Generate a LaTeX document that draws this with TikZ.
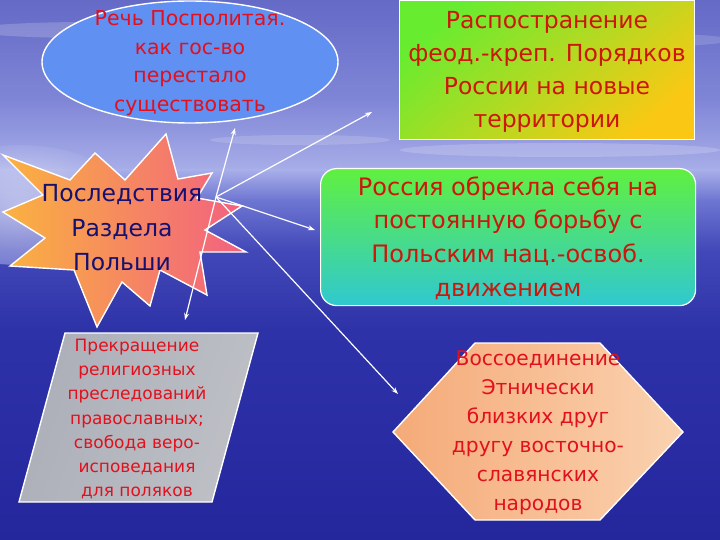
\documentclass[tikz,border=0pt]{standalone}
\usepackage{fontspec}
\setmainfont{DejaVu Sans}
\usetikzlibrary{arrows.meta,shapes.geometric}
\definecolor{bgA}{RGB}{100,106,198}
\definecolor{bgB}{RGB}{128,134,214}
\definecolor{bgC}{RGB}{168,174,232}
\definecolor{bgD}{RGB}{110,118,210}
\definecolor{bgE}{RGB}{66,72,184}
\definecolor{bgF}{RGB}{46,50,168}
\definecolor{bgG}{RGB}{36,38,156}
\definecolor{ellblue}{RGB}{96,144,242}
\definecolor{txtred}{RGB}{226,16,28}
\definecolor{txtdred}{RGB}{205,22,12}
\definecolor{navy}{RGB}{22,16,112}
\definecolor{rgreen}{RGB}{104,236,48}
\definecolor{ryellow}{RGB}{250,200,20}
\definecolor{ggreen}{RGB}{96,240,64}
\definecolor{gteal}{RGB}{48,200,208}
\definecolor{starL}{RGB}{250,178,64}
\definecolor{starR}{RGB}{242,96,128}
\definecolor{silA}{RGB}{172,175,184}
\definecolor{silB}{RGB}{244,245,246}
\definecolor{silC}{RGB}{190,192,198}
\definecolor{hexA}{RGB}{245,170,120}
\definecolor{hexB}{RGB}{253,228,206}
\definecolor{hexC}{RGB}{250,210,176}
\newcommand\fsz[2]{\fontsize{#1}{#2}\selectfont}
\tikzset{
  outline/.style={draw=white, line width=1.4pt},
  conn/.style={draw=white, line width=1.2pt, -{Stealth[length=7pt,width=5pt]}},
  lbl/.style={align=center, inner sep=0pt},
}
\begin{document}
\begin{tikzpicture}[x=1pt,y=-1pt]
\useasboundingbox (0,0) rectangle (720,540);
% background
\shade[top color=bgA, bottom color=bgB] (0,0) rectangle (720,100.5);
\shade[top color=bgB, bottom color=bgC] (0,100) rectangle (720,170.5);
\shade[top color=bgC, bottom color=bgD] (0,170) rectangle (720,200.5);
\shade[top color=bgD, bottom color=bgE] (0,200) rectangle (720,250.5);
\shade[top color=bgE, bottom color=bgF] (0,250) rectangle (720,330.5);
\shade[top color=bgF, bottom color=bgG] (0,330) rectangle (720,540);
\shade[inner color=white, outer color=bgC, opacity=0.55] (20,205) ellipse [x radius=110, y radius=60];
\fill[white, opacity=0.18] (90,30) ellipse [x radius=120, y radius=8];
\fill[white, opacity=0.18] (560,150) ellipse [x radius=160, y radius=7];
\fill[white, opacity=0.15] (300,140) ellipse [x radius=90, y radius=5];
\fill[white, opacity=0.15] (660,40) ellipse [x radius=70, y radius=6];

% ellipse
\node[ellipse, outline, fill=ellblue, minimum width=296pt, minimum height=122pt, inner sep=0pt] (ell) at (190,62) {};
\node[lbl, text=txtred, font=\fsz{20.5}{28.5}] (elltxt) at (190,63)
  {Речь Посполитая.\\как гос-во\\перестало\\существовать};

% top-right rectangle
\node[draw=white, line width=1pt, top color=rgreen, bottom color=ryellow, shading angle=40,
      minimum width=295pt, minimum height=139pt, inner sep=0pt, anchor=north west] (rect) at (399,0) {};
\node[lbl, text=txtdred, font=\fsz{23.5}{33}] (recttxt) at (547,72)
  {Распостранение\\феод.-креп. Порядков\\России на новые\\территории};

% star
\shadedraw[outline, left color=starL, right color=starR]
  (166,134) -- (178,179) -- (212,173) -- (197,198) -- (242,206) -- (205,230) --
  (246,252) -- (200,252) -- (207,295) -- (160,270) -- (150,306) -- (122,282) --
  (97,327) -- (74,270) -- (10,266) -- (45,238) -- (3,212) -- (43,195) --
  (3,155) -- (70,180) -- (95,153) -- (125,180) -- cycle;
\node[lbl, text=navy, font=\fsz{23.5}{34.5}] (startxt) at (122,228)
  {Последствия\\Раздела\\Польши};

% rounded rectangle
\node[draw=white, line width=1.2pt, rounded corners=16pt, top color=ggreen, bottom color=gteal,
      minimum width=375pt, minimum height=137pt, inner sep=0pt, anchor=north west] (rrect) at (320,168) {};
\node[lbl, text=txtdred, font=\fsz{24}{33.7}] (rrecttxt) at (508,238)
  {Россия обрекла себя на\\постоянную борьбу с\\Польским нац.-освоб.\\движением};

% parallelogram
\shadedraw[outline, left color=silA, middle color=silB, right color=silC, shading angle=70]
  (65,333) -- (258,333) -- (212,502) -- (19,502) -- cycle;
\node[lbl, text=txtred, font=\fsz{17}{24.2}] (paratxt) at (137,419)
  {Прекращение\\религиозных\\преследований\\православных;\\свобода веро-\\исповедания\\для поляков};

% hexagon
\shadedraw[outline, left color=hexA, middle color=hexB, right color=hexC]
  (475,343) -- (600,343) -- (683,432) -- (600,520) -- (475,520) -- (393,432) -- cycle;
\node[lbl, text=txtred, font=\fsz{20.2}{29}] (hextxt) at (538,433)
  {Воссоединение\\Этнически\\близких друг\\другу восточно-\\славянских\\народов};

% connectors
\coordinate (hub) at (216,197);
\coordinate (toEll) at (235,128);
\coordinate (toRect) at (372,112);
\coordinate (toRR) at (315,230);
\coordinate (toHex) at (398,394);
\coordinate (toPara) at (185,320);
\draw[conn] (hub) -- (toEll);
\draw[conn] (hub) -- (toRect);
\draw[conn] (hub) -- (toRR);
\draw[conn] (hub) -- (toHex);
\draw[conn] (hub) -- (toPara);
\end{tikzpicture}
\end{document}
